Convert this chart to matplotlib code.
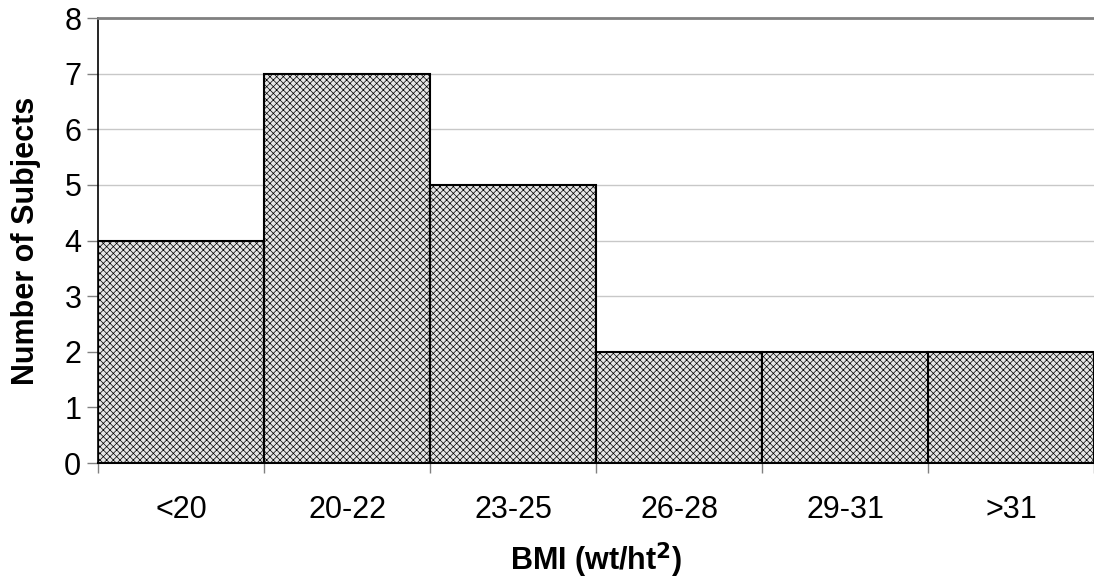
import matplotlib.pyplot as plt
import matplotlib as mpl

categories = ["<20", "20-22", "23-25", "26-28", "29-31", ">31"]
counts = [4, 7, 5, 2, 2, 2]
yticks = [0, 1, 2, 3, 4, 5, 6, 7, 8]

plt.rcParams["font.family"] = "Liberation Sans"
mpl.rcParams["hatch.color"] = "#959595"
mpl.rcParams["hatch.linewidth"] = 0.5

fig = plt.figure(figsize=(10.94, 5.83), dpi=100)
ax = fig.add_axes([0.0896, 0.2058, 0.9104, 0.7632])

x = list(range(len(categories)))
ax.bar(x, counts, width=1.0, color="#e4e4e4", edgecolor="black", linewidth=1.5,
       hatch="xxxxx", zorder=3)

ax.set_xlim(-0.5, len(categories) - 0.5)
ax.set_ylim(0, 8)
ax.set_yticks(yticks)
ax.yaxis.grid(True, color="#c8c8c8", linewidth=1, zorder=0)

# ticks at the category boundaries, labels centred under bars
ax.set_xticks([i - 0.5 for i in range(len(categories) + 1)])
ax.set_xticklabels([])
ax.set_xticks(x, minor=True)
ax.set_xticklabels(categories, minor=True)
ax.tick_params(axis="x", which="minor", length=0, pad=23, labelsize=22)
ax.tick_params(axis="x", which="major", length=7, width=1, color="#808080")
ax.tick_params(axis="y", length=8, width=1, color="#808080", labelsize=22, pad=4)

ax.spines["right"].set_visible(False)
ax.spines["top"].set_color("#808080")
ax.spines["top"].set_linewidth(2)
ax.spines["left"].set_color("black")
ax.spines["left"].set_linewidth(1.2)
ax.spines["bottom"].set_color("black")
ax.spines["bottom"].set_linewidth(1.5)

ax.set_ylabel("Number of Subjects", fontsize=22, fontweight="bold", labelpad=17)
ax.set_xlabel("BMI (wt/ht$^\\mathbf{2}$)", fontsize=22, fontweight="bold", labelpad=11)

fig.savefig("out.png", dpi=100)
